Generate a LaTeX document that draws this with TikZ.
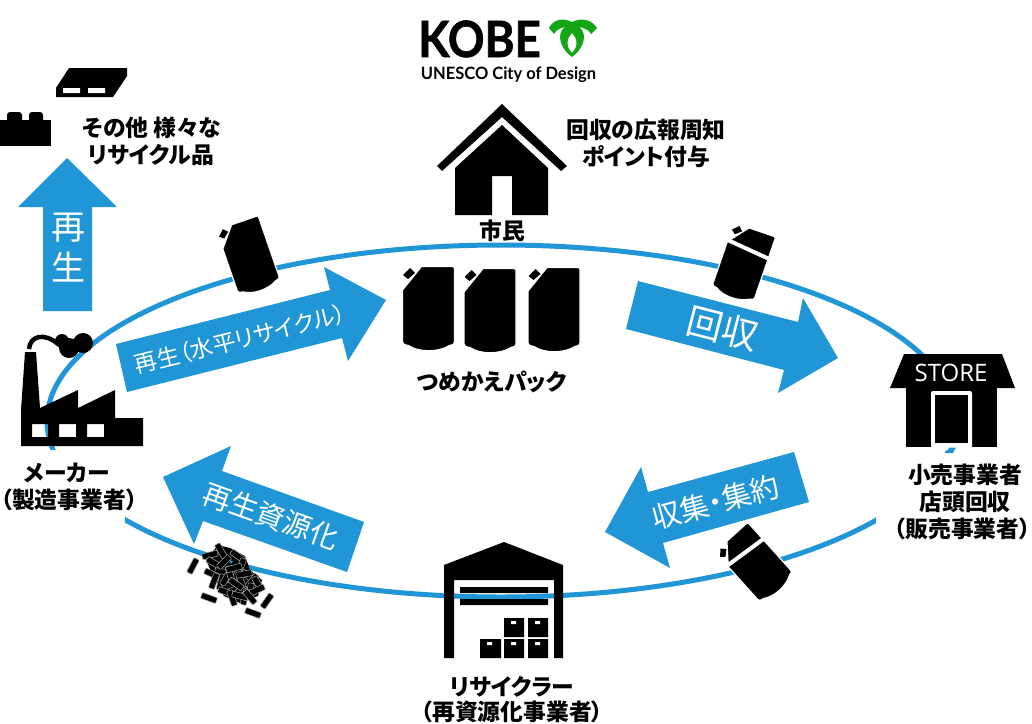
\documentclass[tikz,border=0pt]{standalone}
\usepackage{graphicx}
\usepackage{fontspec}
\newfontfamily\jp[RawFeature=+palt]{Noto Sans CJK JP}
\newfontfamily\kobefont[BoldFeatures={FakeBold=1.3}]{Lato}
\newfontfamily\unescofont{Lato}
\newfontfamily\storefont{Open Sans}
\definecolor{flow}{HTML}{2096D7}
\definecolor{emblem}{HTML}{14A514}
\newcommand{\packshape}{%
    \fill[black,draw=white,line width=1.2] (-26,-19) -- (-7,-42.5) -- (24,-42.5) .. controls (26,-42.5) and (26,-41) .. (26,-40)
      -- (26,33) .. controls (26,35.5) and (24,36) .. (21,36.5)
      .. controls (10,43.5) and (-10,43.5) .. (-20,36.5)
      .. controls (-24,36) and (-26,35) .. (-26,33) -- cycle;
    \fill[black] (-25.5,-34) -- (-18.5,-41) -- (-13.5,-36) -- (-20.5,-30) -- cycle;
}
\tikzset{
  loopline/.style={draw=flow,line width=5},
  flowarrow/.style={fill=flow},
  solid black/.style={fill=black,even odd rule},
  lab/.style={font=\jp\bfseries\fontsize{22.8}{24}\selectfont,inner sep=0pt,text=black},
  flowtext/.style={font=\jp\fontsize{#1}{#1}\selectfont,inner sep=0pt,text=white},
  rod/.style={fill=black,draw=gray!70,line width=.55,rounded corners=.8},
  packbody/.pic={\packshape},
  cutpack/.pic={
    \packshape
    \draw[white,line width=4] (-33,-21.5) -- (33,-15);
  }
}
\begin{document}
\begin{tikzpicture}[x=1pt,y=-1pt]
\useasboundingbox (0,0) rectangle (1032,723);
\fill[white] (0,0) rectangle (1032,723);

% recycling loop
\draw[loopline] (501,421) ellipse [x radius=454,y radius=176];
\fill[white] (0,450) rectangle (125,522);
\fill[white] (876,453) rectangle (1032,548);

% blue arrows
\fill[flowarrow] (67,158) -- (117,207) -- (92,207) -- (92,311) -- (43,311) -- (43,207) -- (18,207) -- cycle;
\fill[flowarrow] (116,344) -- (330,290) -- (324,267) -- (386,300) -- (348,361) -- (342,338) -- (127,392) -- cycle;
\fill[flowarrow] (638,281) -- (798,322) -- (803,298) -- (838,358) -- (778,393) -- (784,370) -- (626,329) -- cycle;
\fill[flowarrow] (794,452) -- (809,502) -- (663,543) -- (670,568) -- (605,532) -- (641,467) -- (648,492) -- cycle;
\fill[flowarrow] (163,477) -- (231,446) -- (222,471) -- (364,522) -- (347,572) -- (203,521) -- (194,544) -- cycle;

\node[flowtext=34,align=center,font=\jp\fontsize{34}{41}\selectfont] (upA) at (68,248) {再\\生};
\node[flowtext=23,rotate=14] (horizA) at (240,339) {再生（水平リサイクル）};
\node[flowtext=36,rotate=-14.5] (collA) at (723,328) {回収};
\node[flowtext=29,rotate=15.3] (gatherA) at (716,502) {収集・集約};
\node[flowtext=28.5,rotate=-19.8] (resA) at (271,516) {再生資源化};

% logo
\node[font=\kobefont\bfseries\fontsize{50}{50}\selectfont,inner sep=0pt,anchor=base] (kobe) at (479.5,57) {\scalebox{.91}[1]{KOBE}};
\node[font=\unescofont\bfseries\fontsize{17}{20}\selectfont,inner sep=0pt,anchor=base] (unesco) at (508.5,79) {\scalebox{.97}[1]{UNESCO City of Design}};
\fill[emblem] (549,28) .. controls (553,20) and (562,17) .. (572,22) .. controls (582,17) and (592,20) .. (597,28)
  -- (591,34) .. controls (587,27) and (578,26) .. (572,28) .. controls (566,26) and (558,27) .. (554,34) -- cycle;
\fill[emblem,even odd rule] (572,24) .. controls (555,27) and (557,46) .. (572,57) .. controls (587,46) and (589,27) .. (572,24) -- cycle
  (572,33) .. controls (566,39) and (566,47) .. (572,53) .. controls (578,47) and (578,39) .. (572,33) -- cycle;

% other recycled goods
\fill[black] (69,68) -- (127,68) -- (127,76) -- (113,97) -- (56,97) -- (56,88) -- cycle;
\fill[white] (63,88) rectangle (80,93) (88,88) rectangle (105,93);
\fill[black] (0,120) rectangle (51,146);
\fill[black,rounded corners=3] (7,125) -- (7,112) -- (22,112) -- (22,125) -- cycle;
\fill[black,rounded corners=3] (29,125) -- (29,112) -- (43,112) -- (43,125) -- cycle;

% house
\fill[black] (502,104) -- (567,166) -- (561,171) -- (502,117) -- (442,171) -- (437,166) -- cycle;
\fill[solid black] (502,125) -- (548,168) -- (548,215) -- (512,215) -- (512,176) -- (492,176) -- (492,215) -- (455,215) -- (455,168) -- cycle;

% factory
\fill[solid black] (21,446) -- (143,446) -- (143,418) -- (115,418) -- (115,390) -- (78,408) -- (78,390) -- (40,408) -- (36,352) -- (25,352) -- (21,410) -- cycle
  (32,424) rectangle (48,437) (59,424) rectangle (76,437) (87,424) rectangle (104,437);
\draw[black,line width=4.5] (29,349) .. controls (30,336) and (44,332) .. (58,344);
\fill[black] (62,341) circle (7) (69,348) circle (10) (83,343) circle (10);

% warehouse
\fill[solid black] (444,658) -- (444,565) -- (504,542) -- (563,565) -- (563,658) -- (554,658) -- (554,580) -- (454,580) -- (454,658) -- cycle;
\fill[black] (460,587) rectangle (548,593) (460,599) rectangle (548,605);
\fill[black] (504,618) rectangle (524,637) (528,618) rectangle (548,637)
  (480,639) rectangle (501,658) (504,639) rectangle (524,658) (528,639) rectangle (548,658);
\fill[white] (511,621) rectangle (516,624) (535,621) rectangle (540,624)
  (487,642) rectangle (492,645) (511,642) rectangle (516,645) (535,642) rectangle (540,645);

% store
\fill[black] (904,354) -- (1002,354) -- (1015,388) -- (890,388) -- cycle;
\fill[black] (906,388) rectangle (997,447);
\fill[white,rounded corners=2] (931,450) -- (931,391) -- (972,391) -- (972,450) -- cycle;
\fill[black] (935,395) rectangle (968,443);
\fill[flow] (949,447.5) -- (956,447.5) -- (953,453) -- (947,453) -- cycle;
\node[font=\storefont\fontsize{24}{24}\selectfont,text=white,inner sep=0pt] (store) at (951,373) {STORE};

% refill packs
\pic at (428.5,309) {packbody};
\pic at (490,311) {packbody};
\pic at (554,310) {packbody};
\pic[rotate=19,scale=.85] at (249,257) {packbody};
\pic[rotate=-19,scale=.85] at (743,264) {cutpack};
\pic[rotate=42,scale=.85] at (755.5,564) {cutpack};

% pellets
\fill[black] (218,545) -- (230,548) -- (245,556) -- (250,570) -- (262,580) -- (258,596) -- (240,603) -- (224,596) -- (214,578) -- (206,560) -- cycle;
\fill[flow] (229,560) -- (233,561) -- (231,564) -- cycle;
\foreach \x/\y/\a in {
  193/566/62, 209/598/-20, 267/601/55, 253/613/-20,
  221/551/-60, 210/555/15, 214/563/-30, 238/556/-35,
  241/566/70, 223/572/-10, 212/574/-25, 236/576/65,
  248/576/-40, 221/582/75, 230/585/20, 242/584/-70, 252/581/50,
  258/584/-60, 226/592/-20, 238/592/40, 250/591/80, 257/590/25,
  232/598/-70, 245/597/75, 240/596/-15, 250/597/-50, 226/578/60,
  214/581/70, 230/574/-75, 234/568/15, 224/562/45, 244/574/10, 236/584/-35}
  \draw[rod,shift={(\x,\y)},rotate=\a] (-8,-3) rectangle (8,3);

% labels
\node[lab] (goods1) at (152,128) {その他 様々な};
\node[lab] (goods2) at (151,155) {リサイクル品};
\node[lab] (notice1) at (646,130) {回収の広報周知};
\node[lab] (notice2) at (646,157) {ポイント付与};
\node[lab] (citizen) at (502,231) {市民};
\node[lab] (packlab) at (492,382) {つめかえパック};
\node[lab] (maker1) at (67,473) {メーカー};
\node[lab] (maker2) at (69,500) {（製造事業者）};
\node[lab] (shop1) at (965,475) {小売事業者};
\node[lab] (shop2) at (965,502) {店頭回収};
\node[lab] (shop3) at (962.5,529) {（販売事業者）};
\node[lab] (rec1) at (512,687) {リサイクラー};
\node[lab] (rec2) at (512,712) {（再資源化事業者）};
\end{tikzpicture}
\end{document}
